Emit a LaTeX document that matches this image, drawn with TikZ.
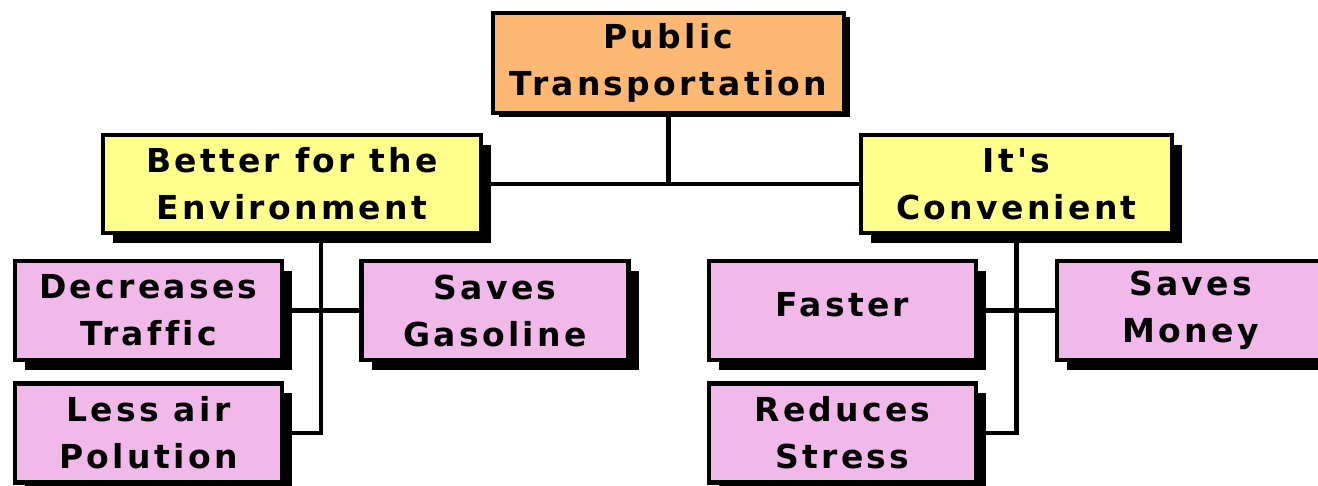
\documentclass[tikz,border=0pt]{standalone}
\usepackage{fontspec}
\newfontfamily\boxfont{DejaVu Sans Bold}[LetterSpace=10, Ligatures=NoCommon]
\usetikzlibrary{shadows}
\definecolor{orangebox}{RGB}{253,185,115}
\definecolor{yellowbox}{RGB}{255,255,140}
\definecolor{pinkbox}{RGB}{240,185,234}
\tikzset{
  basebox/.style={draw=black, line width=2.25pt, rectangle, inner sep=0pt, align=center,
    font=\boxfont\fontsize{16.5}{23.5}\selectfont},
  topbox/.style={basebox, fill=orangebox, minimum width=175.5pt, minimum height=50pt,
    general shadow={fill=black, shadow xshift=3pt, shadow yshift=-2pt}},
  midbox/.style={basebox, fill=yellowbox, minimum height=49pt,
    general shadow={fill=black, shadow xshift=5pt, shadow yshift=-5pt}},
  leafbox/.style={basebox, fill=pinkbox, minimum width=133.5pt, minimum height=49.5pt,
    general shadow={fill=black, shadow xshift=5pt, shadow yshift=-5pt}},
  link/.style={draw=black, line width=2.25pt}
}
\begin{document}
\begin{tikzpicture}[x=0.5pt, y=-0.5pt]
\useasboundingbox (0,0) rectangle (1318,486);
\node[topbox] (pub) at (668.5,63) {Public\\Transportation};
\node[midbox, minimum width=189pt] (env) at (292,184) {Better for the\\Environment};
\node[midbox, minimum width=155.5pt] (conv) at (1016.5,184) {It's\\Convenient};
\node[leafbox] (dec) at (148.5,310.5) {Decreases\\Traffic};
\node[leafbox] (gas) at (495,310.5) {Saves\\Gasoline};
\node[leafbox] (less) at (148.5,433) {Less air\\Polution};
\node[leafbox] (fast) at (842.5,310.5) {\raisebox{6pt}{Faster}};
\node[leafbox] (money) at (1190.5,310.5) {Saves\\Money};
\node[leafbox] (stress) at (842.5,433) {Reduces\\Stress};
\coordinate (lx) at (321,0);
\draw[link] (pub.south) -- (pub.south |- env.east);
\draw[link] (env.east) -- (conv.west);
\draw[link] (less.east) -| (env.south -| lx);
\draw[link] (dec.east) -- (gas.west);
\draw[link] (stress.east) -| (conv.south);
\draw[link] (fast.east) -- (money.west);
\end{tikzpicture}
\end{document}
